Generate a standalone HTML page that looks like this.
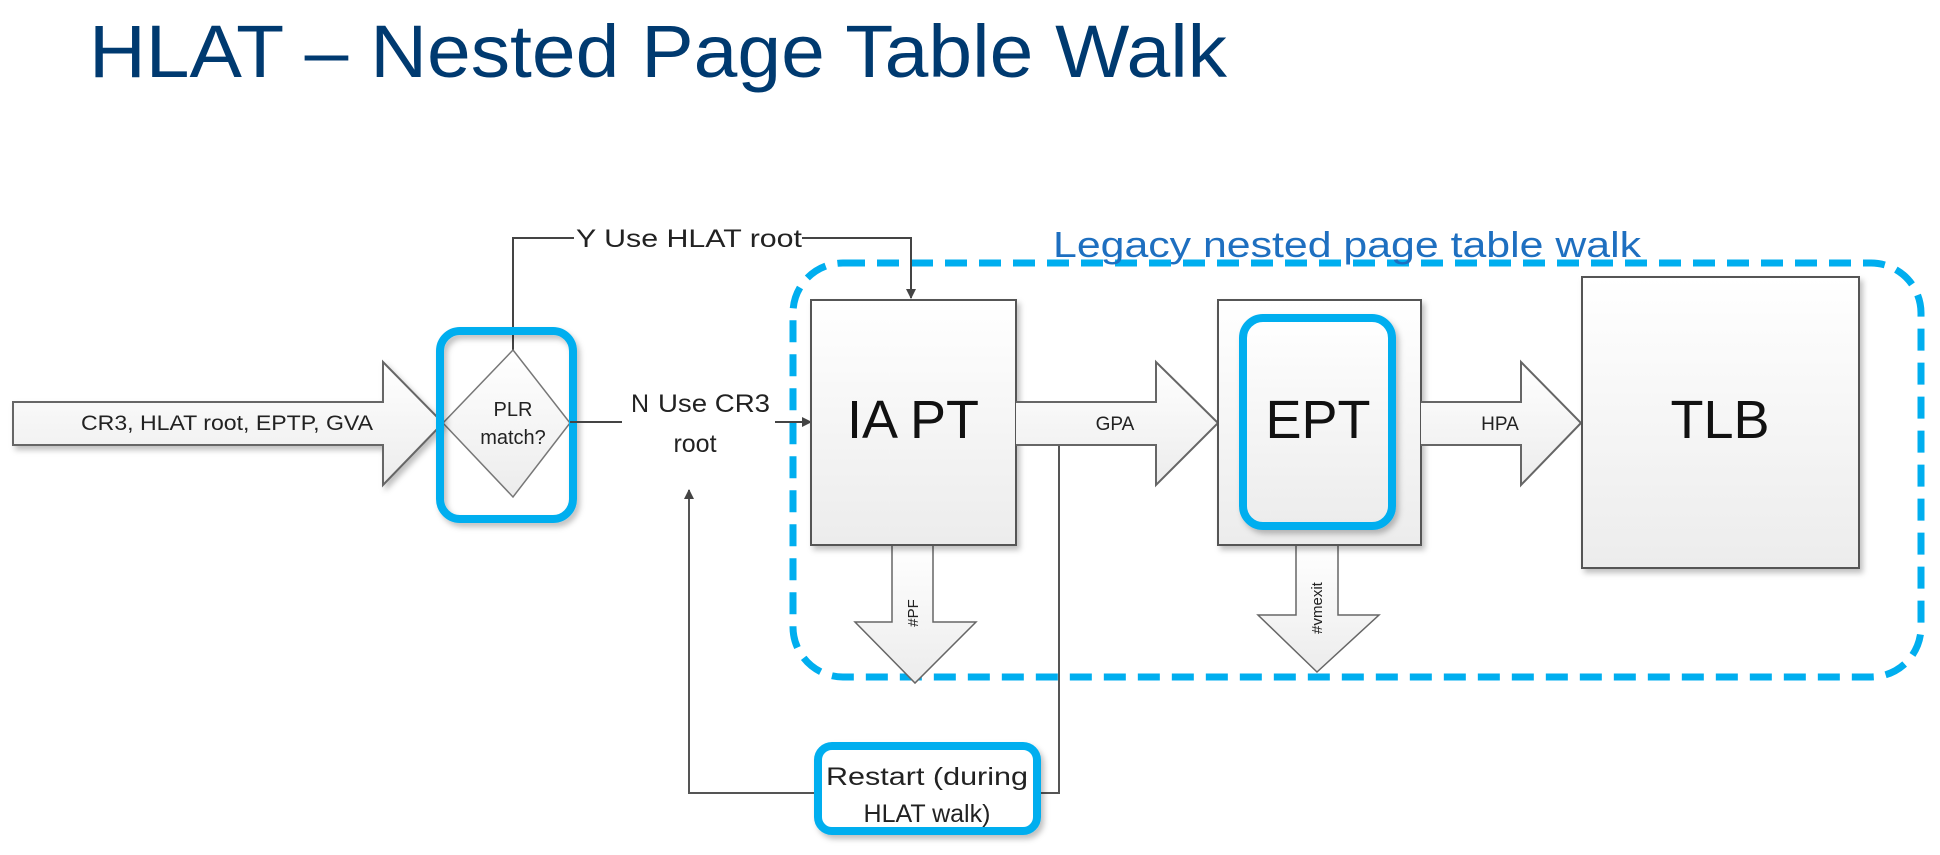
<!DOCTYPE html>
<html><head><meta charset="utf-8"><style>
html,body{margin:0;padding:0;background:#fff;}
svg{display:block;font-family:"Liberation Sans",sans-serif;}
</style></head><body>
<svg width="1940" height="855" viewBox="0 0 1940 855" xmlns="http://www.w3.org/2000/svg">
<defs>
<linearGradient id="g" x1="0" y1="0" x2="0" y2="1"><stop offset="0" stop-color="#ffffff"/><stop offset="1" stop-color="#ececec"/></linearGradient>
<filter id="sh" x="-10%" y="-10%" width="130%" height="130%"><feDropShadow dx="3" dy="4" stdDeviation="3" flood-color="#000" flood-opacity="0.25"/></filter>
<marker id="ah" markerWidth="10" markerHeight="10" refX="9" refY="5" orient="auto" markerUnits="userSpaceOnUse"><path d="M0,0 L10,5 L0,10 z" fill="#444"/></marker>
</defs>

<text x="89" y="77" font-size="74" fill="#003a70" textLength="1138" lengthAdjust="spacingAndGlyphs">HLAT – Nested Page Table Walk</text>

<!-- dashed legacy box -->
<rect x="793" y="263" width="1128" height="414" rx="50" fill="none" stroke="#00aeef" stroke-width="7" stroke-dasharray="22 12"/>
<text x="1053" y="257" font-size="36" fill="#1e6fc0" textLength="588" lengthAdjust="spacingAndGlyphs">Legacy nested page table walk</text>

<!-- input arrow -->
<path d="M13,402 H383 V362 L443,423 L383,485 V445 H13 Z" fill="url(#g)" stroke="#666" stroke-width="2" filter="url(#sh)"/>
<text x="227" y="430" font-size="21" text-anchor="middle" fill="#222" textLength="292" lengthAdjust="spacingAndGlyphs">CR3, HLAT root, EPTP, GVA</text>

<!-- Y line -->
<path d="M513,350 V238 H574" fill="none" stroke="#444" stroke-width="2"/>
<text x="576" y="247" font-size="25" fill="#222" textLength="226" lengthAdjust="spacingAndGlyphs">Y Use HLAT root</text>
<path d="M802,238 H911 V298" fill="none" stroke="#444" stroke-width="2" marker-end="url(#ah)"/>

<!-- diamond -->
<path d="M513,350 L570,423 L513,497 L443,423 Z" fill="url(#g)" stroke="#777" stroke-width="1.5"/>
<text x="513" y="416" font-size="20" text-anchor="middle" fill="#222">PLR</text>
<text x="513" y="444" font-size="20" text-anchor="middle" fill="#222">match?</text>
<rect x="440" y="331" width="133" height="188" rx="20" fill="none" stroke="#00aeef" stroke-width="8" filter="url(#sh)"/>

<!-- N line -->
<path d="M570,422 H622" fill="none" stroke="#444" stroke-width="2"/>
<text x="631" y="412" font-size="25" fill="#222">N</text>
<text x="714" y="412" font-size="25" fill="#222" text-anchor="middle" textLength="112" lengthAdjust="spacingAndGlyphs">Use CR3</text>
<text x="695" y="452" font-size="25" fill="#222" text-anchor="middle">root</text>
<path d="M775,422 H811" fill="none" stroke="#444" stroke-width="2" marker-end="url(#ah)"/>

<!-- restart loop -->
<path d="M1016,422 H1059 V793 H1041" fill="none" stroke="#555" stroke-width="2"/>
<path d="M814,793 H689 V490" fill="none" stroke="#555" stroke-width="2" marker-end="url(#ah)"/>
<rect x="818" y="746" width="219" height="85" rx="14" fill="#fff" stroke="#00aeef" stroke-width="8" filter="url(#sh)"/>
<text x="927" y="785" font-size="25" text-anchor="middle" fill="#222" textLength="202" lengthAdjust="spacingAndGlyphs">Restart (during</text>
<text x="927" y="822" font-size="25" text-anchor="middle" fill="#222">HLAT walk)</text>

<!-- #PF arrow -->
<path d="M892,545 H933 V622 H976 L915,683 L855,622 H892 Z" fill="url(#g)" stroke="#666" stroke-width="1.5"/>
<text x="0" y="0" font-size="15" fill="#222" text-anchor="middle" transform="translate(918,613) rotate(-90)">#PF</text>

<!-- #vmexit arrow -->
<path d="M1296,545 H1338 V615 H1379 L1317,672 L1258,615 H1296 Z" fill="url(#g)" stroke="#666" stroke-width="1.5"/>
<text x="0" y="0" font-size="15" fill="#222" text-anchor="middle" transform="translate(1322,608) rotate(-90)">#vmexit</text>

<!-- IA PT -->
<rect x="811" y="300" width="205" height="245" fill="url(#g)" stroke="#555" stroke-width="2" filter="url(#sh)"/>
<text x="913" y="438" font-size="54" text-anchor="middle" fill="#111">IA PT</text>
<path d="M1016,422 H1059" fill="none" stroke="#555" stroke-width="2"/>

<!-- GPA arrow -->
<path d="M1016,402 H1156 V362 L1218,423 L1156,485 V445 H1016" fill="url(#g)" stroke="#666" stroke-width="2"/>
<text x="1115" y="430" font-size="19" text-anchor="middle" fill="#222">GPA</text>

<!-- EPT -->
<rect x="1218" y="300" width="203" height="245" fill="url(#g)" stroke="#555" stroke-width="2" filter="url(#sh)"/>
<rect x="1243" y="318" width="149" height="208" rx="20" fill="url(#g)" stroke="#00aeef" stroke-width="8" filter="url(#sh)"/>
<text x="1318" y="438" font-size="54" text-anchor="middle" fill="#111">EPT</text>

<!-- HPA arrow -->
<path d="M1421,402 H1521 V362 L1581,423 L1521,485 V445 H1421" fill="url(#g)" stroke="#666" stroke-width="2"/>
<text x="1500" y="430" font-size="19" text-anchor="middle" fill="#222">HPA</text>

<!-- TLB -->
<rect x="1582" y="277" width="277" height="291" fill="url(#g)" stroke="#555" stroke-width="2" filter="url(#sh)"/>
<text x="1720" y="438" font-size="54" text-anchor="middle" fill="#111">TLB</text>
</svg>
</body></html>
